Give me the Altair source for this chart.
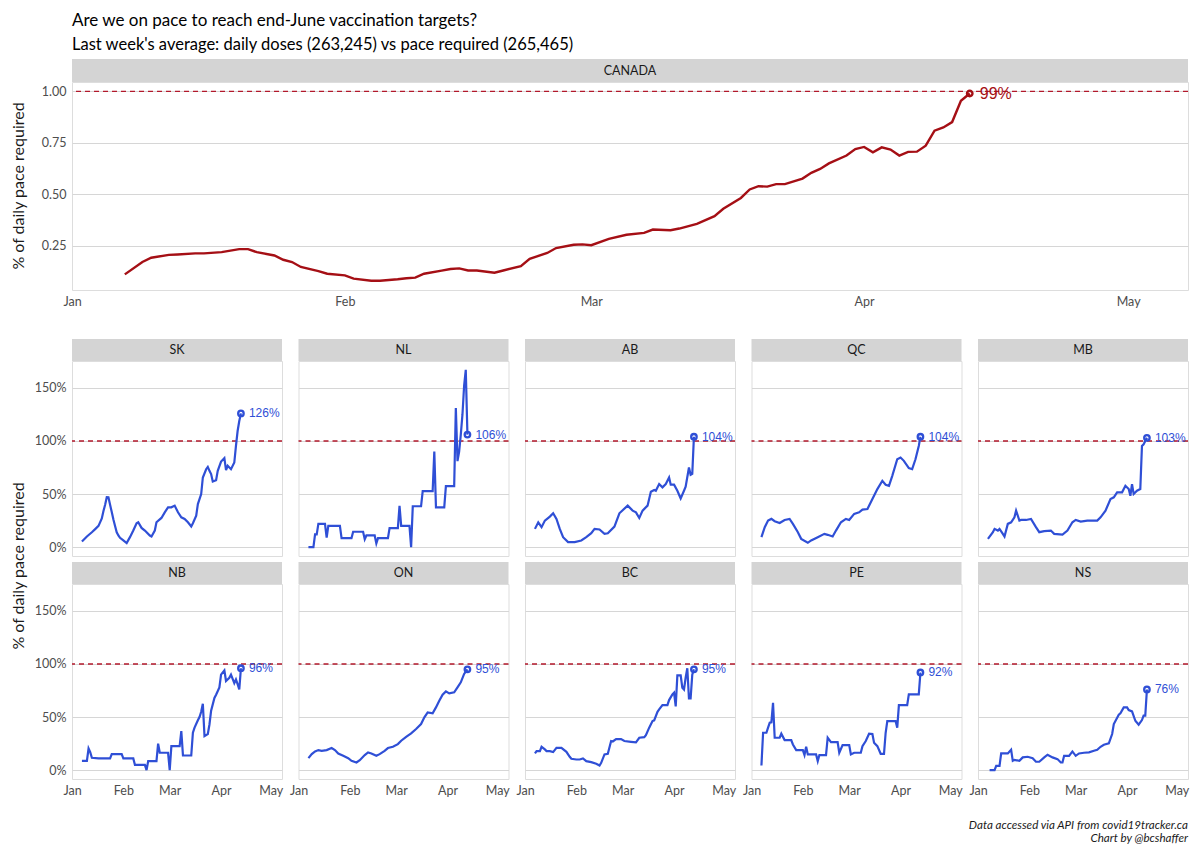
import altair as alt
import pandas as pd

# x = days since 2021-01-01 (0 = Jan 1)
month_ticks = [0, 31, 59, 90, 120]
month_names = ["Jan", "Feb", "Mar", "Apr", "May"]

ca_day = [6,8,9,11,12,14,15,17,19,20,21,23,24,25,26,28,29,31,32,34,35,37,38,39,40,42,43,44,45,46,48,49,51,52,54,55,57,58,59,61,63,65,66,68,69,71,73,74,76,77,78,79,80,81,83,84,85,86,88,89,90,91,92,93,94,95,96,97,98,99,100,101,102]
ca_val = [0.110,0.170,0.191,0.205,0.207,0.212,0.212,0.218,0.233,0.233,0.218,0.202,0.181,0.170,0.146,0.126,0.113,0.105,0.089,0.079,0.079,0.086,0.091,0.094,0.113,0.128,0.136,0.139,0.129,0.129,0.118,0.129,0.150,0.186,0.214,0.238,0.254,0.256,0.252,0.283,0.303,0.312,0.328,0.325,0.333,0.356,0.393,0.429,0.482,0.523,0.539,0.537,0.549,0.549,0.576,0.604,0.623,0.650,0.688,0.720,0.730,0.704,0.728,0.717,0.688,0.706,0.707,0.736,0.809,0.825,0.851,0.955,0.99]

sk_day = [6,9,12,14,16,18,19,20,21,22,23,24,25,26,27,28,29,31,33,35,37,39,40,42,44,47,48,50,51,54,56,58,60,62,64,66,68,70,72,73,75,76,78,79,81,82,83,84,85,87,88,90,92,93,94,96,98,99,100,101,102]
sk_val = [0.053,0.10,0.14,0.17,0.20,0.27,0.34,0.40,0.47,0.469,0.40,0.33,0.26,0.20,0.14,0.11,0.088,0.063,0.038,0.094,0.156,0.225,0.234,0.181,0.156,0.109,0.100,0.156,0.234,0.275,0.328,0.375,0.375,0.391,0.328,0.281,0.266,0.234,0.194,0.225,0.297,0.406,0.500,0.656,0.734,0.756,0.719,0.688,0.619,0.631,0.719,0.806,0.838,0.725,0.766,0.734,0.797,0.953,1.094,1.188,1.26]

nl_day = [6,9,10,11,12,16,17,18,25,26,32,33,39,40,41,46,47,48,54,55,60,61,62,67,68,69,74,75,81,82,83,88,89,94,95,96,97,98,99,100,101,102]
nl_val = [0,0,0.12,0.12,0.22,0.22,0.09,0.20,0.20,0.085,0.085,0.145,0.145,0.075,0.11,0.11,0.035,0.085,0.085,0.18,0.18,0.39,0.20,0.20,0.0,0.385,0.385,0.527,0.527,0.90,0.375,0.375,0.574,0.574,1.31,0.81,0.90,1.06,1.25,1.52,1.67,1.06]

ab_day = [6,8,10,12,15,17,19,21,23,26,30,34,37,40,42,45,48,50,54,57,62,65,67,69,71,74,76,78,79,81,83,85,87,88,90,92,94,96,97,99,100,101,102]
ab_val = [0.172,0.234,0.188,0.25,0.288,0.319,0.266,0.172,0.094,0.047,0.047,0.063,0.094,0.131,0.172,0.166,0.125,0.131,0.194,0.319,0.391,0.344,0.328,0.275,0.344,0.391,0.522,0.538,0.531,0.594,0.563,0.594,0.656,0.588,0.588,0.531,0.459,0.531,0.569,0.75,0.681,0.69,1.04]

qc_day = [6,8,10,12,14,17,20,23,25,28,30,34,36,40,44,46,49,51,54,57,59,62,65,67,70,73,76,79,81,83,85,88,90,92,95,97,99,101,102]
qc_val = [0.094,0.188,0.25,0.266,0.244,0.228,0.256,0.266,0.219,0.141,0.078,0.041,0.063,0.094,0.125,0.116,0.10,0.156,0.234,0.266,0.256,0.313,0.328,0.353,0.359,0.453,0.547,0.625,0.588,0.578,0.672,0.828,0.844,0.813,0.744,0.734,0.828,0.953,1.04]

mb_day = [6,9,10,12,13,15,16,18,20,22,23,25,26,29,32,35,37,40,44,46,51,54,57,59,62,66,72,74,77,80,82,84,87,89,91,92,93,94,96,98,99,100,101,102]
mb_val = [0.078,0.141,0.172,0.156,0.172,0.125,0.10,0.219,0.234,0.281,0.344,0.25,0.256,0.256,0.266,0.188,0.141,0.15,0.156,0.125,0.119,0.156,0.234,0.256,0.241,0.25,0.25,0.281,0.344,0.453,0.469,0.516,0.516,0.578,0.547,0.484,0.594,0.50,0.531,0.547,0.953,0.969,1.0,1.03]

nb_day = [6,9,10,11,12,16,23,24,30,31,37,38,44,45,46,51,52,53,58,59,60,65,66,67,72,73,74,76,77,78,79,80,82,83,84,86,87,89,90,92,93,95,96,98,99,100,101,102]
nb_val = [0.088,0.088,0.204,0.17,0.116,0.11,0.11,0.15,0.15,0.11,0.11,0.05,0.05,0.0,0.085,0.085,0.25,0.164,0.164,0.0,0.226,0.226,0.368,0.138,0.138,0.352,0.40,0.47,0.50,0.55,0.626,0.32,0.34,0.43,0.56,0.68,0.71,0.78,0.90,0.94,0.84,0.87,0.90,0.82,0.855,0.81,0.76,0.96]

on_day = [6,8,10,12,14,17,20,22,24,27,30,32,35,37,40,42,44,47,49,52,54,57,60,62,65,68,71,74,76,78,81,83,85,87,89,91,94,96,98,100,102]
on_val = [0.113,0.151,0.176,0.189,0.182,0.189,0.208,0.189,0.157,0.135,0.113,0.088,0.072,0.094,0.142,0.167,0.157,0.135,0.151,0.182,0.208,0.22,0.245,0.277,0.314,0.346,0.387,0.434,0.497,0.544,0.535,0.591,0.654,0.711,0.742,0.723,0.733,0.78,0.827,0.906,0.95]

bc_day = [6,7,9,10,12,13,15,17,19,22,25,27,28,31,33,35,37,40,43,45,46,48,50,52,53,55,58,60,64,67,69,72,73,75,77,78,80,81,83,86,87,89,90,91,92,94,95,96,97,98,99,100,101,102]
bc_val = [0.157,0.179,0.179,0.22,0.195,0.179,0.179,0.17,0.21,0.21,0.173,0.126,0.107,0.10,0.10,0.11,0.085,0.075,0.06,0.044,0.069,0.148,0.154,0.274,0.27,0.292,0.292,0.274,0.267,0.261,0.305,0.311,0.33,0.40,0.462,0.469,0.55,0.572,0.613,0.613,0.66,0.714,0.73,0.60,0.893,0.893,0.777,0.76,0.87,0.96,0.676,0.676,0.90,0.95]

pe_day = [6,7,9,10,11,12,13,14,17,18,20,24,25,27,31,32,33,34,39,40,41,45,46,48,52,53,55,59,60,62,66,67,69,71,73,74,76,78,80,81,82,87,88,89,94,95,101,102]
pe_val = [0.044,0.352,0.352,0.40,0.447,0.45,0.635,0.305,0.305,0.343,0.283,0.283,0.242,0.189,0.189,0.142,0.22,0.148,0.148,0.085,0.142,0.142,0.305,0.264,0.264,0.164,0.236,0.236,0.148,0.164,0.164,0.226,0.274,0.343,0.34,0.258,0.226,0.154,0.154,0.352,0.462,0.462,0.40,0.613,0.613,0.714,0.714,0.92]

ns_day = [7,10,11,13,14,18,20,21,22,25,27,30,33,35,37,40,42,45,48,50,51,52,55,57,59,61,64,67,70,72,74,76,79,81,82,85,86,88,90,91,93,95,97,99,100,101,102]
ns_val = [0.0,0.0,0.041,0.041,0.157,0.157,0.192,0.088,0.097,0.088,0.12,0.126,0.113,0.079,0.079,0.12,0.145,0.12,0.104,0.072,0.072,0.135,0.135,0.176,0.135,0.157,0.164,0.167,0.182,0.192,0.22,0.239,0.252,0.34,0.434,0.522,0.535,0.591,0.591,0.566,0.553,0.465,0.428,0.472,0.513,0.513,0.76]

prov_order = ["SK", "NL", "AB", "QC", "MB", "NB", "ON", "BC", "PE", "NS"]
prov_series = {
    "SK": (sk_day, sk_val), "NL": (nl_day, nl_val), "AB": (ab_day, ab_val),
    "QC": (qc_day, qc_val), "MB": (mb_day, mb_val), "NB": (nb_day, nb_val),
    "ON": (on_day, on_val), "BC": (bc_day, bc_val), "PE": (pe_day, pe_val),
    "NS": (ns_day, ns_val),
}

title_text = "Are we on pace to reach end-June vaccination targets?"
subtitle_text = "Last week's average: daily doses (263,245) vs pace required (265,465)"
y_title = "% of daily pace required"
caption1 = "Data accessed via API from covid19tracker.ca"
caption2 = "Chart by @bcshaffer"


def make_df(name, days, vals):
    df = pd.DataFrame({"prov": name, "day": days, "value": vals})
    df["last"] = df["day"] == df["day"].max()
    df["label"] = [f"{round(v * 100)}%" for v in df["value"]]
    return df


ca_df = make_df("CANADA", ca_day, ca_val)
prov_df = pd.concat([make_df(p, *prov_series[p]) for p in prov_order], ignore_index=True)

FONT = "Lato"
LABEL_FONT = "Liberation Sans"
BLUE = "#2f4fd6"
RED = "#a50f15"
DASH = "#b2182b"
GRID = "#d6d6d6"
STRIP = "#d4d4d4"
TXT = "#1a1a1a"
AXT = "#4d4d4d"

month_expr = " : ".join(
    [f"datum.value == {t} ? '{n}'" for t, n in zip(month_ticks[:-1], month_names[:-1])]
) + f" : '{month_names[-1]}'"

X_DOMAIN = [0, 126.8]


def x_enc():
    return alt.X(
        "day:Q",
        scale=alt.Scale(domain=X_DOMAIN, nice=False, zero=False),
        axis=alt.Axis(values=month_ticks, labelExpr=month_expr, title=None, grid=False,
                      ticks=False, domain=False, labelFontSize=12.5, labelColor=AXT,
                      labelFont=FONT, labelPadding=5, labelFlush=False, labelOverlap=False),
    )


def y_enc(domain, values, fmt):
    return alt.Y(
        "value:Q",
        scale=alt.Scale(domain=domain, nice=False, zero=False),
        axis=alt.Axis(values=values, format=fmt, title=None, grid=True, gridColor=GRID,
                      gridWidth=1, ticks=False, domain=False, labelFontSize=12.5,
                      labelColor=AXT, labelFont=FONT, labelPadding=6, labelFlush=False),
    )


# ---------- top panel: CANADA ----------
TOP_W, TOP_H = 1116, 208
ca_y = y_enc([0.034, 1.046], [0.25, 0.5, 0.75, 1.0], ".2f")
cbase = alt.Chart(ca_df)
clast = cbase.transform_filter("datum.last")

top = alt.layer(
    clast.mark_rule(color=DASH, strokeDash=[5, 4], strokeWidth=1.3).encode(y=alt.datum(1.0)),
    cbase.mark_line(color=RED, strokeWidth=2.4).encode(x=x_enc(), y=ca_y),
    clast.mark_point(filled=False, size=30, strokeWidth=2.4, color=RED, opacity=1).encode(x=x_enc(), y=ca_y),
    clast.mark_text(align="left", baseline="middle", dx=10, font=LABEL_FONT, fontSize=16, color=RED).encode(
        x=x_enc(), y=ca_y, text="label:N"),
    clast.mark_rect(color=STRIP).encode(x=alt.value(0), x2=alt.value(TOP_W), y=alt.value(-23), y2=alt.value(0)),
    clast.mark_text(font=FONT, fontSize=12.5, color=TXT, baseline="middle").encode(
        x=alt.value(TOP_W / 2), y=alt.value(-11.5), text="prov:N"),
    clast.mark_text(font=FONT, fontSize=16, color=TXT, angle=270, baseline="middle").encode(
        x=alt.value(-53), y=alt.value(104), text=alt.value(y_title)),
).properties(width=TOP_W, height=TOP_H)

# ---------- provincial panels ----------
P_W, P_H = 210, 195
p_y = y_enc([-0.0835, 1.7535], [0, 0.5, 1.0, 1.5], ".0%")
pbase = alt.Chart()
plast = pbase.transform_filter("datum.last")

panel = alt.layer(
    plast.mark_rule(color=DASH, strokeDash=[5, 4], strokeWidth=1.3).encode(y=alt.datum(1.0)),
    pbase.mark_line(color=BLUE, strokeWidth=2.2).encode(x=x_enc(), y=p_y),
    plast.mark_point(filled=False, size=30, strokeWidth=2.3, color=BLUE, opacity=1).encode(x=x_enc(), y=p_y),
    plast.mark_text(align="left", baseline="middle", dx=8, font=LABEL_FONT, fontSize=12, color=BLUE).encode(
        x=x_enc(), y=p_y, text="label:N"),
    plast.mark_rect(color=STRIP).encode(x=alt.value(0), x2=alt.value(P_W), y=alt.value(-22), y2=alt.value(0)),
    plast.mark_text(font=FONT, fontSize=12.5, color=TXT, baseline="middle").encode(
        x=alt.value(P_W / 2), y=alt.value(-11), text="prov:N"),
    plast.transform_filter("datum.prov == 'NB'").mark_text(
        font=FONT, fontSize=16, color=TXT, angle=270, baseline="middle").encode(
        x=alt.value(-53), y=alt.value(-18), text=alt.value(y_title)),
    plast.transform_filter("datum.prov == 'NS'").mark_text(
        font=FONT, fontSize=11.6, fontStyle="italic", color=TXT, align="right", baseline="middle").encode(
        x=alt.value(P_W), y=alt.value(241.5), text=alt.value(caption1)),
    plast.transform_filter("datum.prov == 'NS'").mark_text(
        font=FONT, fontSize=11.6, fontStyle="italic", color=TXT, align="right", baseline="middle").encode(
        x=alt.value(P_W), y=alt.value(254.5), text=alt.value(caption2)),
    data=prov_df,
).properties(width=P_W, height=P_H)

bottom = panel.facet(
    facet=alt.Facet("prov:N", sort=prov_order,
                    header=alt.Header(labels=False, labelExpr="''", labelFontSize=0,
                                      labelPadding=0, title=None)),
    columns=5,
    spacing={"row": 28, "column": 16.5},
    bounds="flush",
)

chart = alt.vconcat(top, bottom, spacing=71, bounds="flush").properties(
    title=alt.TitleParams(
        text=title_text, subtitle=subtitle_text, anchor="start", frame="group", font=FONT,
        subtitleFont=FONT, fontSize=17, subtitleFontSize=16.5, fontWeight="normal",
        color="#000000", subtitleColor="#000000", offset=4, subtitlePadding=7,
    ),
    padding={"left": 2, "top": 4, "right": 2, "bottom": 2},
).configure_view(stroke=None).configure(font=FONT)

chart.save("out.html", embed_options={"renderer": "svg", "actions": False})
